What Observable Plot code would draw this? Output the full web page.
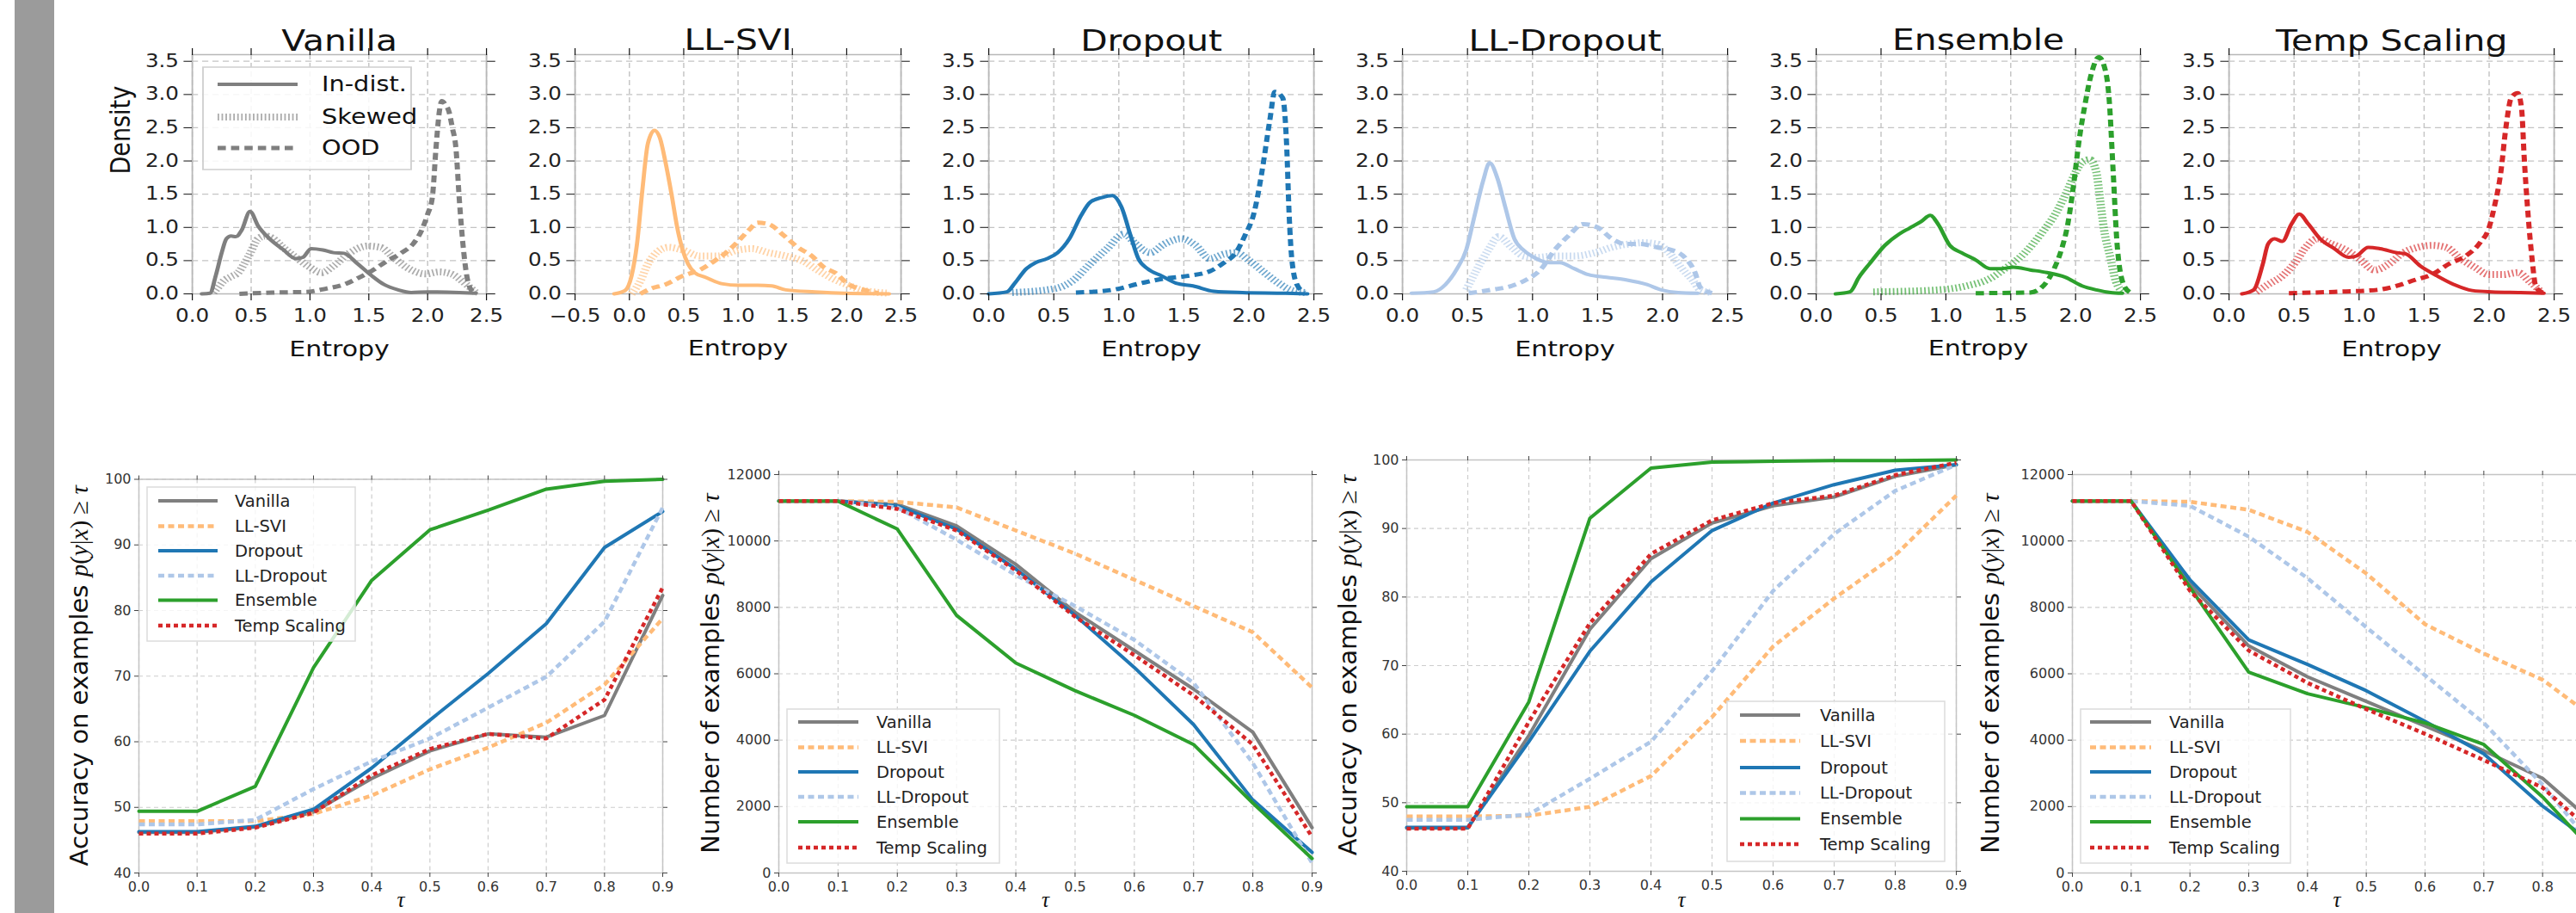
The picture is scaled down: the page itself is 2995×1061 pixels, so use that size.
<!DOCTYPE html>
<html><head><meta charset="utf-8">
<script src="https://cdn.jsdelivr.net/npm/d3@7"></script>
<script src="https://cdn.jsdelivr.net/npm/@observablehq/plot@0.6"></script>
<style>
body{margin:0;background:#fff;}
#root{position:relative;width:2995px;height:1061px;overflow:hidden;background:#fff;font-family:"DejaVu Sans",sans-serif;}
.abs{position:absolute;transform-origin:0 0;}
</style></head><body><div id="root"></div>
<script>
// ---------------- DATA ----------------
const methods = ["Vanilla","LL-SVI","Dropout","LL-Dropout","Ensemble","Temp Scaling"];
const colors = ["#7f7f7f","#ffbb78","#1f77b4","#aec7e8","#2ca02c","#d62728"];
const conditions = ["In-dist.","Skewed","OOD"];

// Entropy density curves: [entropy, density]
const vanillaIn = [[0.08,0],[0.15,0.01],[0.2,0.28],[0.25,0.62],[0.29,0.83],[0.33,0.87],[0.37,0.86],[0.42,0.96],[0.49,1.24],[0.56,1.02],[0.65,0.84],[0.77,0.67],[0.88,0.53],[0.94,0.55],[1.01,0.68],[1.11,0.66],[1.2,0.62],[1.29,0.61],[1.4,0.46],[1.52,0.28],[1.63,0.14],[1.75,0.06],[1.86,0.02],[2.0,0.03],[2.27,0.02],[2.41,0.01]];
const vanillaSkew = [[0.18,0.02],[0.22,0.1],[0.27,0.2],[0.33,0.26],[0.39,0.32],[0.44,0.45],[0.48,0.57],[0.56,0.83],[0.62,0.87],[0.68,0.84],[0.77,0.7],[0.88,0.55],[1.0,0.4],[1.1,0.32],[1.2,0.42],[1.34,0.62],[1.49,0.72],[1.6,0.7],[1.72,0.53],[1.84,0.38],[1.98,0.3],[2.1,0.33],[2.2,0.3],[2.33,0.14],[2.41,0.02]];
const vanillaOOD = [[0.4,0],[0.68,0.02],[0.97,0.03],[1.14,0.08],[1.29,0.14],[1.4,0.23],[1.52,0.34],[1.66,0.5],[1.78,0.62],[1.88,0.76],[1.95,0.96],[2.0,1.2],[2.04,1.45],[2.07,2.17],[2.1,2.75],[2.12,2.9],[2.15,2.85],[2.18,2.75],[2.21,2.5],[2.24,2.2],[2.27,1.4],[2.3,0.75],[2.33,0.3],[2.37,0.06],[2.42,0]];

const llsviIn = [[-0.14,0],[-0.04,0.05],[0.02,0.27],[0.07,0.75],[0.12,1.57],[0.17,2.26],[0.23,2.46],[0.28,2.35],[0.33,2.0],[0.39,1.48],[0.44,1.0],[0.49,0.66],[0.54,0.45],[0.6,0.32],[0.7,0.25],[0.86,0.15],[1.0,0.13],[1.18,0.13],[1.31,0.12],[1.44,0.06],[1.71,0.03],[1.97,0.01],[2.39,0]];
const llsviSkew = [[0.02,0],[0.1,0.19],[0.17,0.45],[0.25,0.62],[0.36,0.7],[0.49,0.66],[0.65,0.57],[0.81,0.57],[1.0,0.66],[1.13,0.68],[1.28,0.62],[1.44,0.57],[1.6,0.49],[1.73,0.36],[1.87,0.23],[2.0,0.14],[2.13,0.06],[2.24,0.03],[2.39,0.01]];
const llsviOOD = [[0.1,0],[0.2,0.08],[0.33,0.14],[0.49,0.27],[0.65,0.36],[0.76,0.47],[0.89,0.62],[1.0,0.79],[1.1,0.96],[1.18,1.07],[1.28,1.05],[1.42,0.88],[1.55,0.7],[1.68,0.57],[1.79,0.4],[1.89,0.32],[2.02,0.14],[2.16,0.06],[2.29,0.01]];

const dropoutIn = [[0,0],[0.14,0.03],[0.2,0.16],[0.29,0.38],[0.36,0.47],[0.45,0.53],[0.53,0.62],[0.62,0.83],[0.71,1.18],[0.78,1.38],[0.87,1.45],[0.95,1.48],[1.02,1.31],[1.09,0.88],[1.15,0.53],[1.22,0.38],[1.33,0.27],[1.44,0.16],[1.57,0.12],[1.73,0.04],[1.95,0.02],[2.28,0.01],[2.45,0]];
const dropoutSkew = [[0.18,0.02],[0.51,0.08],[0.64,0.19],[0.78,0.45],[0.91,0.68],[1.04,0.9],[1.13,0.75],[1.24,0.62],[1.35,0.75],[1.48,0.83],[1.59,0.73],[1.7,0.53],[1.81,0.6],[1.9,0.62],[2.01,0.49],[2.12,0.32],[2.23,0.16],[2.32,0.06],[2.43,0.02]];
const dropoutOOD = [[0.67,0.02],[0.95,0.06],[1.17,0.16],[1.35,0.23],[1.53,0.27],[1.7,0.34],[1.81,0.47],[1.9,0.62],[1.97,0.88],[2.04,1.22],[2.1,1.83],[2.16,2.6],[2.2,3.04],[2.26,2.95],[2.29,2.26],[2.31,1.18],[2.33,0.53],[2.37,0.14],[2.43,0.02]];

const lldropIn = [[0.07,0.01],[0.24,0.03],[0.33,0.14],[0.42,0.38],[0.49,0.66],[0.55,1.14],[0.62,1.7],[0.67,1.97],[0.73,1.74],[0.79,1.31],[0.86,0.83],[0.93,0.66],[1.01,0.55],[1.13,0.47],[1.21,0.47],[1.32,0.38],[1.43,0.29],[1.57,0.25],[1.72,0.21],[1.88,0.14],[1.99,0.06],[2.12,0.02],[2.27,0.01]];
const lldropSkew = [[0.49,0.06],[0.57,0.36],[0.66,0.66],[0.74,0.86],[0.84,0.7],[0.93,0.57],[1.04,0.55],[1.17,0.57],[1.32,0.57],[1.48,0.62],[1.61,0.7],[1.74,0.75],[1.85,0.77],[1.96,0.75],[2.05,0.62],[2.14,0.4],[2.23,0.21],[2.29,0.06],[2.38,0.02]];
const lldropOOD = [[0.51,0.01],[0.68,0.06],[0.84,0.12],[0.95,0.21],[1.06,0.36],[1.17,0.66],[1.28,0.88],[1.39,1.05],[1.5,1.0],[1.61,0.83],[1.72,0.75],[1.83,0.75],[1.96,0.7],[2.07,0.66],[2.18,0.53],[2.25,0.32],[2.29,0.1],[2.38,0.01]];

const ensIn = [[0.15,0],[0.26,0.03],[0.33,0.25],[0.41,0.45],[0.53,0.73],[0.64,0.9],[0.72,0.99],[0.81,1.09],[0.88,1.18],[0.94,1.05],[1.03,0.73],[1.12,0.62],[1.23,0.51],[1.34,0.38],[1.43,0.38],[1.52,0.4],[1.65,0.36],[1.78,0.32],[1.92,0.25],[2.05,0.12],[2.16,0.06],[2.27,0.02],[2.36,0.01]];
const ensSkew = [[0.44,0.03],[0.94,0.06],[1.16,0.12],[1.34,0.23],[1.47,0.4],[1.61,0.62],[1.74,0.92],[1.85,1.22],[1.94,1.57],[2.0,1.83],[2.05,1.98],[2.11,2.02],[2.16,1.83],[2.19,1.4],[2.22,0.96],[2.27,0.53],[2.31,0.19],[2.37,0.03]];
const ensOOD = [[1.23,0.01],[1.65,0.02],[1.74,0.1],[1.83,0.36],[1.89,0.66],[1.94,1.05],[1.98,1.57],[2.03,2.35],[2.07,2.82],[2.12,3.3],[2.18,3.56],[2.22,3.43],[2.26,2.9],[2.29,1.83],[2.32,0.75],[2.37,0.14],[2.42,0.02]];

const tempIn = [[0.1,0],[0.19,0.06],[0.26,0.45],[0.3,0.75],[0.35,0.83],[0.41,0.79],[0.48,1.05],[0.54,1.2],[0.61,1.05],[0.7,0.83],[0.81,0.68],[0.92,0.55],[0.98,0.57],[1.07,0.7],[1.16,0.68],[1.29,0.62],[1.36,0.6],[1.47,0.42],[1.6,0.27],[1.73,0.14],[1.87,0.05],[2.02,0.03],[2.24,0.02],[2.42,0.01]];
const tempSkew = [[0.21,0.03],[0.3,0.14],[0.41,0.27],[0.5,0.45],[0.59,0.7],[0.68,0.83],[0.79,0.75],[0.9,0.66],[1.0,0.53],[1.12,0.36],[1.23,0.45],[1.34,0.62],[1.45,0.7],[1.56,0.73],[1.67,0.7],[1.78,0.53],[1.89,0.4],[2.0,0.29],[2.11,0.29],[2.22,0.32],[2.31,0.19],[2.4,0.03]];
const tempOOD = [[0.46,0.01],[0.81,0.03],[1.14,0.06],[1.29,0.12],[1.43,0.21],[1.56,0.29],[1.69,0.45],[1.82,0.57],[1.93,0.77],[2.0,1.0],[2.04,1.31],[2.09,1.83],[2.13,2.52],[2.17,2.95],[2.22,3.02],[2.25,2.78],[2.27,2.04],[2.3,1.18],[2.33,0.53],[2.36,0.1],[2.42,0.01]];

// Threshold curves
const tau = [0,0.1,0.2,0.3,0.4,0.5,0.6,0.7,0.8,0.9];
const accA = [
  [46.2,46.2,47.0,49.3,54.4,58.6,61.2,60.7,64.0,82.3],
  [47.9,47.9,47.9,49.0,51.8,55.8,59.1,62.9,68.7,78.8],
  [46.3,46.3,47.1,49.7,56.0,63.3,70.4,78.0,89.6,95.1],
  [47.4,47.4,48.1,52.8,57.0,60.5,65.2,69.9,78.3,95.7],
  [49.4,49.4,53.2,71.3,84.6,92.3,95.3,98.5,99.7,100],
  [46.0,46.0,46.9,49.2,54.9,58.9,61.2,60.5,66.4,83.5]];
const countA = [
  [11200,11200,11100,10455,9295,7855,6700,5540,4240,1365],
  [11200,11200,11180,11010,10315,9620,8830,8040,7250,5585],
  [11200,11200,11060,10360,9155,7765,6190,4470,2200,620],
  [11200,11200,11010,10040,8970,8040,7020,5725,3310,300],
  [11200,11200,10360,7760,6325,5490,4750,3870,2105,435],
  [11200,11200,10965,10315,9110,7720,6560,5350,3870,1085]];
const accB = [
  [46.3,46.3,59.8,75.3,85.6,90.8,93.3,94.6,97.6,99.3],
  [48.0,48.0,48.1,49.4,53.9,62.5,72.8,79.8,86.1,94.8],
  [46.4,46.4,58.9,72.1,82.2,89.7,93.7,96.4,98.5,99.3],
  [47.5,47.5,48.3,53.5,58.9,69.2,80.9,89.2,95.5,99.3],
  [49.4,49.4,64.7,91.5,98.8,99.7,99.8,99.9,99.9,100],
  [46.2,46.2,61.8,76.2,86.3,91.2,93.7,94.8,97.8,99.6]];
const countB = [
  [11200,11200,8690,6840,5910,5165,4425,3680,2850,1300],
  [11200,11200,11180,10940,10270,9020,7490,6610,5820,4500],
  [11200,11200,8830,7020,6280,5490,4570,3590,2015,700],
  [11200,11200,11060,10130,8880,7400,5955,4520,2660,500],
  [11200,11200,8600,6050,5400,4980,4520,3870,2290,400],
  [11200,11200,8500,6700,5725,4935,4190,3400,2570,1000]];

const xtTop = [0,0.5,1,1.5,2,2.5];
const xtSVI = [-0.5,0,0.5,1,1.5,2,2.5];
const ytTop = [0,0.5,1,1.5,2,2.5,3,3.5];
const ytAcc = [40,50,60,70,80,90,100];
const ytCount = [0,2000,4000,6000,8000,10000,12000];
const tauVisible = [0,0.1,0.2,0.3,0.4,0.5,0.6,0.7,0.8]; // last panel is cropped at the right edge

// ---------------- LAYOUT / STYLE ----------------
const root = document.getElementById("root");
const bar = document.createElement("div");
bar.style.cssText = "position:absolute;left:17px;top:0;width:46px;height:1061px;background:#9b9b9b;";
root.appendChild(bar);

function place(svg, left, top, w, sx) {
  const wrap = document.createElement("div");
  wrap.className = "abs";
  wrap.style.left = left + "px";
  wrap.style.top = top + "px";
  wrap.style.width = w + "px";
  if (sx !== 1) wrap.style.transform = `scaleX(${sx})`;
  wrap.appendChild(svg);
  root.appendChild(wrap);
}
const baseStyle = fs => ({fontFamily:"DejaVu Sans", fontSize: fs + "px", color:"#222", background:"transparent", overflow:"visible", maxWidth:"none"});

// condition styles for density plots
const condStyle = [
  {strokeWidth:4, strokeOpacity:1},
  {strokeWidth:8, strokeOpacity:0.65, strokeDasharray:"1.5,2.3", strokeLinecap:"butt"},
  {strokeWidth:5, strokeOpacity:1, strokeDasharray:"8,5", strokeLinecap:"butt"}
];

const S = 1.2; // horizontal stretch of the top row
const topSpecs = [
  {x1:223, x2:565, xd:[0,2.5], xt:xtTop, d:[vanillaIn,vanillaSkew,vanillaOOD]},
  {x1:668, x2:1047, xd:[-0.5,2.5], xt:xtSVI, d:[llsviIn,llsviSkew,llsviOOD]},
  {x1:1149, x2:1527, xd:[0,2.5], xt:xtTop, d:[dropoutIn,dropoutSkew,dropoutOOD]},
  {x1:1630, x2:2008, xd:[0,2.5], xt:xtTop, d:[lldropIn,lldropSkew,lldropOOD]},
  {x1:2111, x2:2488, xd:[0,2.5], xt:xtTop, d:[ensIn,ensSkew,ensOOD]},
  {x1:2591, x2:2969, xd:[0,2.5], xt:xtTop, d:[tempIn,tempSkew,tempOOD]}
];

topSpecs.forEach((p, i) => {
  const ML = i === 0 ? 110 : 60, MR = 30, MT = 63, MB = 99, H = 440;
  const W = ML + (p.x2 - p.x1) / S + MR;
  const left = p.x1 - ML * S;
  const col = colors[i];
  const grid = {stroke:"#c4c4c4", strokeOpacity:1, strokeWidth:1.2, strokeDasharray:"6,4"};
  const order = [1, 2, 0];
  const marks = [
    Plot.gridX(p.xt, grid),
    Plot.gridY(ytTop, grid),
    Plot.frame({stroke:"#b8b8b8", strokeWidth:1.5}),
    ...order.map(k => Plot.line(p.d[k], {x: d => d[0], y: d => d[1], stroke: col, curve: "monotone-x", ...condStyle[k]})),
    Plot.axisX(p.xt, {tickFormat: ".1f", tickSize: 8, tickPadding: 10, label: null, stroke: "#111"}),
    Plot.axisX(p.xt, {anchor: "top", tickFormat: () => "", tickSize: 8, label: null, stroke: "#111"}),
    Plot.axisY(ytTop, {tickFormat: ".1f", tickSize: 8, tickPadding: 5, label: null, stroke: "#111"}),
    Plot.axisY(ytTop, {anchor: "right", tickFormat: () => "", tickSize: 8, label: null, stroke: "#111"}),
    Plot.text([methods[i]], {frameAnchor: "top", dy: -5, lineAnchor: "bottom", fontSize: 34, fill: "#111"}),
    Plot.text(["Entropy"], {frameAnchor: "bottom", dy: 64, lineAnchor: "middle", fontSize: 25, fill: "#111"})
  ];
  if (i === 0) marks.push(Plot.text(["Density"], {frameAnchor: "left", dx: -(p.x1 - 140) / S, rotate: -90, lineAnchor: "middle", fontSize: 27, fill: "#111"}));
  const svg = Plot.plot({
    width: W, height: H, marginLeft: ML, marginRight: MR, marginTop: MT, marginBottom: MB,
    x: {domain: p.xd}, y: {domain: [0, 3.6]},
    style: baseStyle(20.5),
    marks
  });
  if (i === 0) {
    // legend of the conditions
    const X = v => (v - left) / S;
    const g = d3.select(svg).append("g").attr("text-anchor", "start");
    g.append("rect").attr("x", X(236)).attr("y", 78).attr("width", (478 - 236) / S).attr("height", 197 - 78)
      .attr("fill", "#fff").attr("fill-opacity", 0.85).attr("stroke", "#cfcfcf").attr("stroke-width", 1.5);
    const rows = [98, 136, 172];
    conditions.forEach((c, k) => {
      const st = condStyle[k];
      g.append("line").attr("x1", X(253)).attr("x2", X(346)).attr("y1", rows[k]).attr("y2", rows[k])
        .attr("stroke", col).attr("stroke-width", st.strokeWidth).attr("stroke-opacity", st.strokeOpacity)
        .attr("stroke-dasharray", st.strokeDasharray || null).attr("stroke-linecap", "butt");
      g.append("text").attr("x", X(374)).attr("y", rows[k]).attr("dy", "0.35em").attr("text-anchor", "start")
        .attr("font-size", 24).attr("fill", "#111").text(c);
    });
  }
  place(svg, left, 0, W, S);
});

// ---------------- bottom row ----------------
const lineStyle = [
  {strokeWidth:4},
  {strokeWidth:4.5, strokeDasharray:"7,4.5", strokeLinecap:"butt"},
  {strokeWidth:4},
  {strokeWidth:4.5, strokeDasharray:"7,4.5", strokeLinecap:"butt"},
  {strokeWidth:4},
  {strokeWidth:4.5, strokeDasharray:"5,4", strokeLinecap:"butt"}
];
const botSpecs = [
  {x1:161, x2:770, t:556.5, b:1014, yl:92, yd:[40,100], yt:ytAcc, xt:tau, label:"Accuracy on examples ", data:accA,
   leg:{box:[171,413,566,745], rows:[582,611.5,640,669,697.5,727], s:[184,253], tx:273}},
  {x1:905, x2:1525, t:551, b:1014, yl:826, yd:[0,12000], yt:ytCount, xt:tau, label:"Number of examples ", data:countA,
   leg:{box:[915,1162,824,1003], rows:[839,868.5,897,926,955,985], s:[928,998], tx:1019}},
  {x1:1635, x2:2274, t:534, b:1012, yl:1567, yd:[40,100], yt:ytAcc, xt:tau, label:"Accuracy on examples ", data:accB,
   leg:{box:[2008,2261,815,1001], rows:[831,861,892,921.5,951.5,981], s:[2023,2093], tx:2116}},
  {x1:2409, x2:3024, t:551, b:1014, yl:2314, yd:[0,12000], yt:ytCount, xt:tauVisible, label:"Number of examples ", data:countB,
   leg:{box:[2419,2663,824,1003], rows:[839,868.5,897,926,955,985], s:[2430,2501], tx:2522}}
];

botSpecs.forEach(p => {
  const TOP = 480, H = 581;
  const left = p.yl - 30;
  const ML = p.x1 - left, MR = 20, MT = p.t - TOP, MB = TOP + H - p.b;
  const W = ML + (p.x2 - p.x1) + MR;
  const grid = {stroke:"#cdcdcd", strokeOpacity:1, strokeWidth:1.2, strokeDasharray:"5,4"};
  const svg = Plot.plot({
    width: W, height: H, marginLeft: ML, marginRight: MR, marginTop: MT, marginBottom: MB,
    x: {domain: [0, 0.9]}, y: {domain: p.yd},
    style: baseStyle(16),
    marks: [
      Plot.gridX(tau, grid),
      Plot.gridY(p.yt, grid),
      Plot.frame({stroke:"#c4c4c4", strokeWidth:1.5}),
      ...p.data.map((vals, k) => Plot.line(vals, {x: tau, y: vals, stroke: colors[k], ...lineStyle[k]})),
      Plot.axisX(p.xt, {tickFormat: ".1f", tickSize: 5, tickPadding: 5, label: null, stroke: "#444", fill: "#333"}),
      Plot.axisX(p.xt, {anchor: "top", tickFormat: () => "", tickSize: 5, label: null, stroke: "#444"}),
      Plot.axisY(p.yt, {tickFormat: "d", tickSize: 5, tickPadding: 4, label: null, stroke: "#444", fill: "#333"}),
      Plot.axisY(p.yt, {anchor: "right", tickFormat: () => "", tickSize: 5, label: null, stroke: "#444"}),
      Plot.text(["τ"], {frameAnchor: "bottom", dy: 1053 - p.b, lineAnchor: "bottom", fontSize: 25, fontStyle: "italic", fontFamily: "Liberation Serif", fill: "#111"})
    ]
  });
  const sel = d3.select(svg);
  // y label with math part
  const t = sel.append("text")
    .attr("transform", `translate(${p.yl - left},${(p.t + p.b) / 2 - TOP}) rotate(-90)`)
    .attr("text-anchor", "middle").attr("dy", "0.35em")
    .attr("font-size", 29).attr("fill", "#111");
  t.append("tspan").text(p.label);
  [["p",1],["(",0],["y",1],["|",0],["x",1],[")",0],[" ≥ ",0],["τ",1]].forEach(([s, it]) =>
    t.append("tspan").attr("font-family", "'Liberation Serif',serif").attr("font-style", it ? "italic" : "normal").text(s));
  // legend
  const L = p.leg, X = v => v - left, Y = v => v - TOP;
  const g = sel.append("g").attr("text-anchor", "start");
  g.append("rect").attr("x", X(L.box[0])).attr("y", Y(L.box[2])).attr("width", L.box[1] - L.box[0]).attr("height", L.box[3] - L.box[2])
    .attr("fill", "#fff").attr("fill-opacity", 0.8).attr("stroke", "#dcdcdc").attr("stroke-width", 1.5);
  methods.forEach((m, k) => {
    const st = lineStyle[k];
    g.append("line").attr("x1", X(L.s[0])).attr("x2", X(L.s[1])).attr("y1", Y(L.rows[k])).attr("y2", Y(L.rows[k]))
      .attr("stroke", colors[k]).attr("stroke-width", st.strokeWidth).attr("stroke-dasharray", st.strokeDasharray || null)
      .attr("stroke-linecap", "butt");
    g.append("text").attr("x", X(L.tx)).attr("y", Y(L.rows[k])).attr("dy", "0.35em").attr("text-anchor", "start")
      .attr("font-size", 19.5).attr("fill", "#222").text(m);
  });
  place(svg, left, TOP, W, 1);
});
</script>
</body></html>
